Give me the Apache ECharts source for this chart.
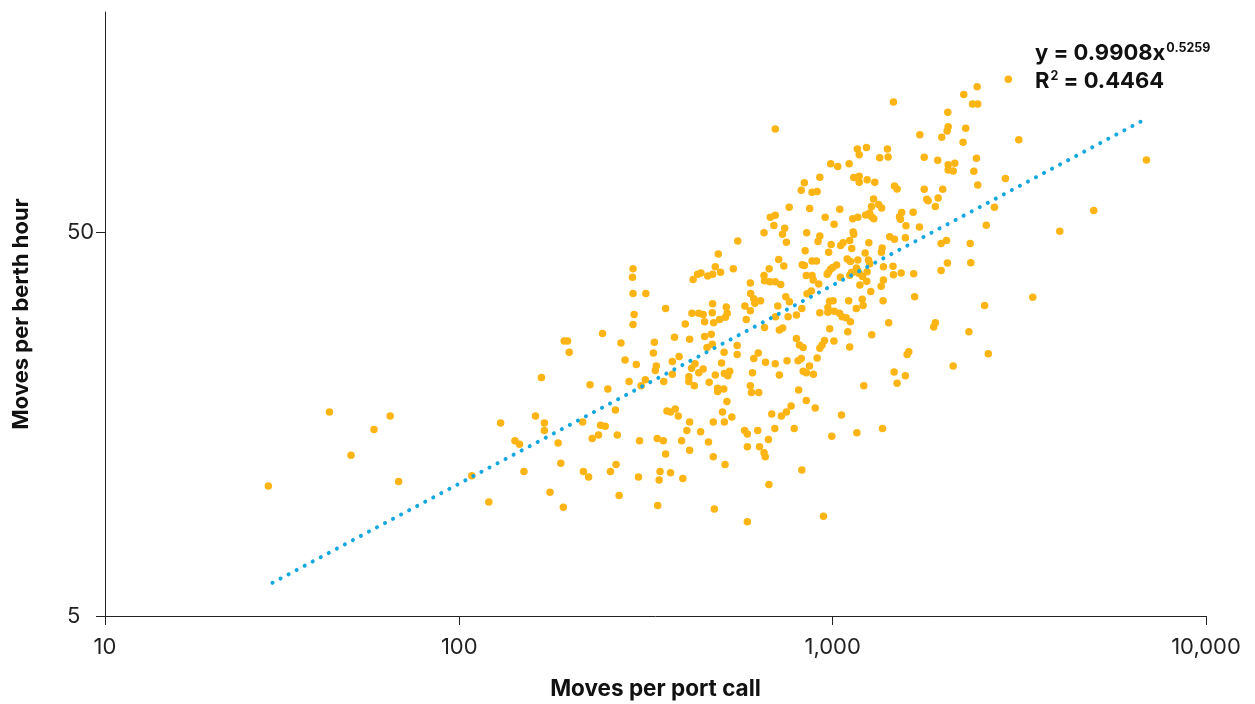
<!DOCTYPE html>
<html><head><meta charset="utf-8">
<script src="https://cdn.jsdelivr.net/npm/echarts@6/dist/echarts.min.js"></script>
<style>html,body{margin:0;padding:0;background:#fff}#chart{width:1255px;height:704px}</style>
</head><body><div id="chart"></div>
<script>
// Moves per port call (x) for each port call point
const portCallMoves = [
  44.9,59.1,65.3,51.3,30.8,68.8,166,129,160,169,169,141,145,184,187,149,108,175,120,190,
  195,191,197,292,291,292,316,357,294,292,242,271,333,331,403,377,414,278,298,337,
  335,388,372,372,412,412,224,250,285,307,315,353,262,360,368,379,386,214,239,246,
  227,236,265,304,339,352,394,407,414,414,357,215,222,254,263,302,345,343,368,397,
  268,340,
  702,840,924,824,881,909,765,868,681,702,696,655,744,734,752,852,924,914,557,494,
  844,717,740,676,542,485,501,435,444,463,477,423,829,840,881,905,850,881,887,918,
  655,657,679,702,726,602,603,615,619,641,749,766,713,854,877,827,477,582,602,519,
  476,522,516,420,438,450,498,587,703,760,800,924,
  454,480,657,720,735,454,473,461,476,800,815,834,924,555,555,512,615,632,661,702,
  755,808,824,867,909,504,428,419,450,438,610,720,834,850,888,485,513,530,524,467,
  426,492,492,511,602,606,634,811,521,850,898,507,537,513,479,687,729,752,774,443,
  581,591,630,700,789,673,465,591,637,655,660,479,515,827,675,482,591,
  1455,2034,2039,2026,1960,1712,1165,1232,1178,1402,1408,1337,988,1032,1107,1759,1912,2039,1139,1178,
  1178,1237,1297,2039,1464,1488,1759,1972,1787,1802,1917,1884,1287,1271,1329,1353,1045,955,1009,1132,
  1168,1226,1256,1271,1289,1531,1510,1519,1643,1572,1708,1135,1139,1422,1464,1566,991,976,1066,1051,
  1111,1250,1125,1357,1351,1222,1094,1116,1168,1247,1257,1025,987,1001,1159,1168,1368,1451,1455,1526,
  1648,1952,2018,2030,1952,974,967,1049,1111,1123,1147,1178,1202,1237,1234,1183,1368,1349,1265,1104,
  1200,1207,1365,1658,1157,981,1003,971,971,1010,1043,1060,1087,
  982,1098,1116,1413,1884,1865,1273,951,937,1008,1111,1599,1583,1461,1566,1488,1212,1056,1360,995,
  1161,945,
  2954,2438,2245,2369,2447,2272,2236,3152,2428,2124,2103,2389,2902,2447,6926,2712,2579,5005,4058,2336,
  2344,3436,2553,2317,2612,2103
];
// Moves per berth hour (y), same order
const berthHourMoves = [
  17.0,15.3,16.6,13.1,10.9,11.2,20.9,15.9,16.6,15.9,15.2,14.3,14.0,14.1,12.5,11.9,11.6,10.5,9.9,9.6,
  26.0,26.0,24.3,40.1,38.1,34.6,34.6,31.6,30.5,28.7,27.2,25.7,25.8,24.2,28.8,26.6,26.3,23.2,22.6,22.4,
  21.8,23.7,23.0,21.3,21.0,20.4,20.0,19.5,20.4,19.9,20.6,20.4,17.2,17.1,17.0,17.3,16.6,16.0,15.7,15.6,
  14.5,14.8,14.8,14.3,14.5,14.3,14.3,15.2,16.0,13.5,13.2,11.9,11.5,11.9,12.4,11.5,11.9,11.3,11.8,11.4,
  10.3,9.7,
  92.7,67.2,69.4,64.2,63.5,63.7,58.0,57.6,54.6,55.3,52.0,49.8,51.1,49.3,47.0,49.8,48.8,47.2,47.4,43.8,
  44.7,42.4,40.8,40.1,40.1,40.6,39.3,38.8,39.1,38.4,38.8,37.6,41.1,40.9,42.0,42.0,38.5,38.5,37.5,36.6,
  38.5,37.3,37.1,37.1,36.5,36.8,34.6,33.5,32.6,33.1,33.9,32.9,32.1,34.5,35.1,31.6,32.5,32.1,31.2,31.9,
  30.8,30.7,30.0,30.7,30.7,30.5,29.6,29.6,30.1,30.1,30.4,30.8,
  29.2,29.0,28.2,27.8,28.1,26.7,27.1,25.0,25.5,26.4,25.4,25.0,24.9,25.3,24.0,24.3,23.4,24.2,22.9,22.7,
  23.1,23.1,23.4,22.4,23.5,22.8,22.7,22.1,22.0,21.5,21.5,21.2,21.7,21.5,21.3,21.2,21.4,21.7,21.1,20.3,
  19.9,19.6,19.2,19.5,19.9,19.1,19.1,19.4,18.1,18.2,17.4,17.0,16.5,16.0,16.0,16.8,16.6,17.0,17.6,15.1,
  15.2,14.9,15.2,15.4,15.4,14.4,14.2,13.8,13.8,13.3,13.0,13.0,12.4,12.0,11.0,9.5,8.8,
  109,102.5,94.0,91.6,88.2,89.6,82.3,83.0,79.5,82.3,78.4,78.0,75.3,74.0,75.3,78.3,76.9,74.8,69.3,69.8,
  67.4,68.4,67.4,72.5,65.9,64.7,64.6,64.6,60.8,60.3,61.3,58.3,60.9,58.3,59.0,57.7,57.3,54.6,52.4,54.1,
  54.6,55.4,56.0,54.8,54.1,56.2,54.8,54.0,56.3,51.9,51.5,50.0,49.3,48.6,47.9,48.3,46.4,44.3,46.9,46.1,
  47.5,46.9,45.3,45.4,44.3,44.1,42.5,41.9,42.3,42.3,41.3,41.0,40.0,40.4,40.3,39.6,40.6,40.7,38.7,39.1,
  38.9,46.7,47.5,41.5,39.7,39.2,38.8,38.1,38.6,39.2,39.4,39.0,38.3,39.4,37.2,36.4,37.5,36.1,35.0,33.1,
  33.4,32.2,33.1,33.9,31.6,33.0,33.1,31.8,30.9,31.1,30.7,30.1,29.9,
  28.0,27.5,29.2,29.0,29.0,28.3,27.0,26.1,25.4,26.0,25.1,24.4,24.0,21.6,21.1,20.2,19.9,16.7,15.4,14.7,
  15.0,9.1,
  125,119.5,114,107.7,107.7,93.1,85.7,86.9,77.8,75.5,72.1,72.0,68.9,66.3,77.0,58.0,52.1,56.9,50.2,46.7,
  41.6,33.8,32.2,27.5,24.1,22.4
];
// Axis ticks and labels
const xTickValues = [11.25, 100, 1000, 10000];
const xTickLabels = ['10', '100', '1,000', '10,000'];
const yTickValues = [5, 50];
const yTickLabels = ['5', '50'];
const yAxisMax = 187;
const xAxisTitle = 'Moves per port call';
const yAxisTitle = 'Moves per berth hour';
// Power trendline end points and its equation text
const trendX = [31.6, 6830];
const trendY = [6.1, 98];
const eqCoef = '0.9908', eqExp = '0.5259', eqR2 = '0.4464';

const FONT = 'Inter, "Noto Sans", sans-serif';
function pickLabel(v, vals, labels) {
  let best = 0, bd = Infinity;
  vals.forEach((t, i) => { const d = Math.abs(Math.log10(v) - Math.log10(t)); if (d < bd) { bd = d; best = i; } });
  return labels[best];
}
const points = portCallMoves.map((x, i) => [x, berthHourMoves[i]]);
const trend = trendX.map((x, i) => [x, trendY[i]]);

const chart = echarts.init(document.getElementById('chart'), null, { renderer: 'canvas' });
chart.setOption({
  animation: false,
  backgroundColor: '#ffffff',
  grid: { left: 105, right: 49, top: 12, bottom: 88, containLabel: false, outerBoundsMode: 'none' },
  xAxis: {
    type: 'log', logBase: 10, min: xTickValues[0], max: xTickValues[xTickValues.length - 1],
    axisLine: { show: true, lineStyle: { color: '#222', width: 1 } },
    axisTick: { show: true, customValues: xTickValues, length: 9, lineStyle: { color: '#222' } },
    axisLabel: { customValues: xTickValues, formatter: v => pickLabel(v, xTickValues, xTickLabels),
      fontSize: 22, color: '#222', margin: 20, fontFamily: FONT },
    splitLine: { show: false }, minorTick: { show: false },
    name: xAxisTitle, nameLocation: 'middle', nameGap: 62,
    nameTextStyle: { fontWeight: 'bold', fontSize: 22.5, color: '#111', fontFamily: FONT }
  },
  yAxis: {
    type: 'log', logBase: 10, min: yTickValues[0], max: yAxisMax,
    axisLine: { show: true, lineStyle: { color: '#222', width: 1 } },
    axisTick: { show: true, customValues: yTickValues, length: 9, lineStyle: { color: '#222' } },
    axisLabel: { customValues: yTickValues, formatter: v => pickLabel(v, yTickValues, yTickLabels),
      align: 'left', fontSize: 22, color: '#222', margin: 38, fontFamily: FONT },
    splitLine: { show: false },
    name: yAxisTitle, nameLocation: 'middle', nameGap: 73, nameRotate: 90,
    nameTextStyle: { fontWeight: 'bold', fontSize: 22, color: '#111', fontFamily: FONT }
  },
  series: [
    { type: 'scatter', data: points, symbol: 'circle', symbolSize: 7.5,
      itemStyle: { color: '#fdb515', opacity: 1 }, z: 2 },
    { type: 'line', data: trend, symbol: 'none', silent: true, z: 3,
      lineStyle: { color: '#14a7e0', width: 4, type: [0.1, 9], cap: 'round' } }
  ],
  graphic: [{
    type: 'text', left: 1035, top: 36, z: 10,
    style: {
      text: '{b|y = ' + eqCoef + 'x}{s|' + eqExp + '}\n{b|R}{s|2}{b| = ' + eqR2 + '}',
      rich: {
        b: { fontSize: 22, fontWeight: 'bold', fontFamily: FONT, fill: '#111', lineHeight: 28, verticalAlign: 'bottom' },
        s: { fontSize: 12.5, fontWeight: 'bold', fontFamily: FONT, fill: '#111', lineHeight: 28, verticalAlign: 'top', padding: [6, 0, 0, 1] }
      }
    }
  }]
});
</script></body></html>
